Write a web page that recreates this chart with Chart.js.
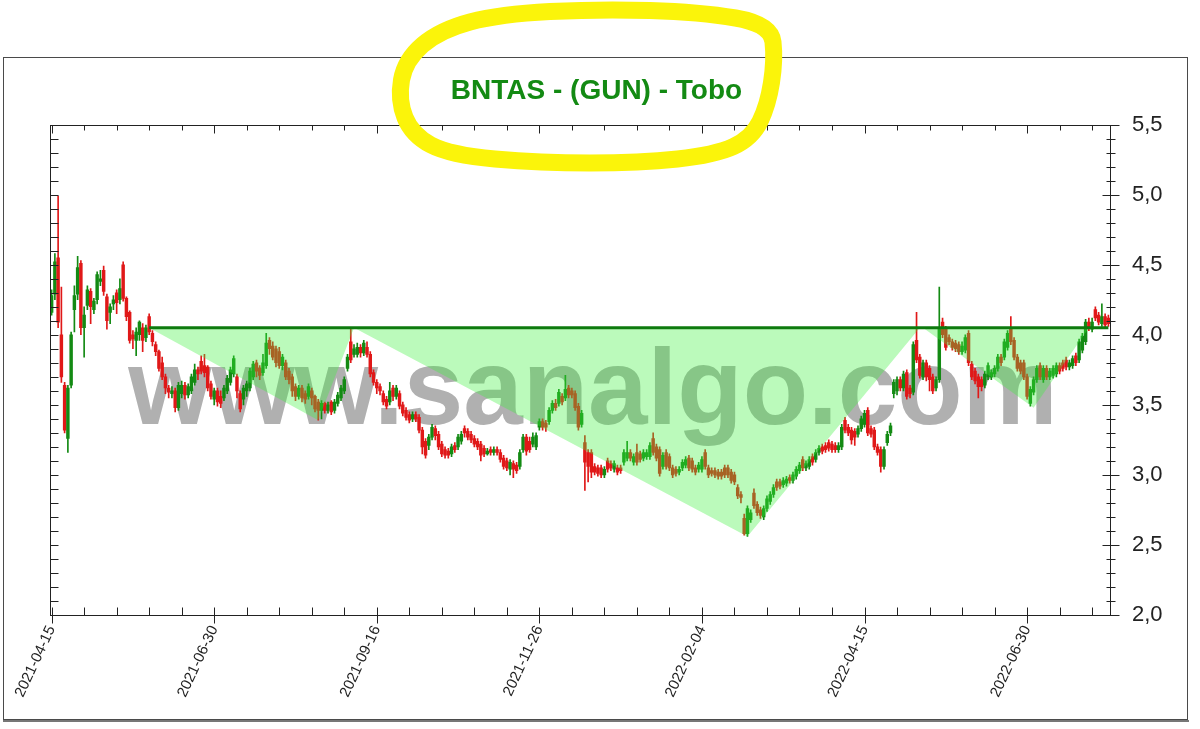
<!DOCTYPE html>
<html lang="tr">
<head>
    <meta charset="UTF-8">
    <title>BNTAS - (GUN) - Tobo</title>
    <script src="https://cdn.jsdelivr.net/npm/chart.js"></script>
    <style>
        body {
            margin: 0;
            padding: 0;
            background: #ffffff;
        }

        .chart-wrap {
            width: 1200px;
            height: 729px;
            position: relative;
        }
    </style>
</head>
<body>
    <div class="chart-wrap">
        <canvas id="priceChart"></canvas>
    </div>

    <script>
        // daily candles (TL)
        const opens = [
            4.16, 4.29, 4.55, 4.00, 3.64, 3.26, 3.64, 4.18, 4.29, 4.51,
            4.05, 4.21, 4.31, 4.18, 4.25, 4.38, 4.46, 4.27, 4.16, 4.22,
            4.30, 4.25, 4.50, 4.26, 4.16, 4.00, 3.96, 4.00, 4.05, 3.98,
            4.13, 4.01, 3.93, 3.88, 3.80, 3.70, 3.62, 3.58, 3.60, 3.48,
            3.58, 3.64, 3.57, 3.60, 3.66, 3.75, 3.81, 3.78, 3.77, 3.65,
            3.54, 3.60, 3.56, 3.55, 3.60, 3.66, 3.72, 3.70, 3.58, 3.54,
            3.60, 3.62, 3.70, 3.80, 3.76, 3.73, 3.78, 3.96, 3.92, 3.90,
            3.88, 3.78, 3.80, 3.74, 3.70, 3.63, 3.56, 3.62, 3.58, 3.56,
            3.60, 3.56, 3.52, 3.46, 3.51, 3.46, 3.52, 3.46, 3.51, 3.55,
            3.60, 3.76, 3.95, 3.86, 3.86, 3.91, 3.87, 3.91, 3.86, 3.73,
            3.66, 3.63, 3.58, 3.54, 3.52, 3.62, 3.56, 3.58, 3.50, 3.46,
            3.43, 3.40, 3.43, 3.41, 3.32, 3.24, 3.21, 3.27, 3.33, 3.29,
            3.22, 3.18, 3.17, 3.15, 3.21, 3.20, 3.24, 3.33, 3.31, 3.29,
            3.26, 3.24, 3.22, 3.19, 3.15, 3.18, 3.16, 3.18, 3.16, 3.12,
            3.10, 3.04, 3.08, 3.07, 3.06, 3.18, 3.27, 3.24, 3.22, 3.20,
            3.34, 3.38, 3.37, 3.38, 3.46, 3.51, 3.51, 3.56, 3.55, 3.62,
            3.60, 3.58, 3.49, 3.36, 3.23, 3.16, 3.16, 3.06, 3.05, 3.05,
            3.00, 3.10, 3.08, 3.04, 3.05, 3.05, 3.09, 3.12, 3.16, 3.09,
            3.16, 3.15, 3.12, 3.13, 3.13, 3.26, 3.20, 3.18, 3.06, 3.16,
            3.13, 3.05, 3.04, 3.02, 3.05, 3.07, 3.12, 3.10, 3.05, 3.04,
            3.04, 3.16, 3.05, 3.03, 3.03, 3.02, 3.02, 3.05, 3.05, 3.02,
            3.00, 2.91, 2.86, 2.69, 2.58, 2.68, 2.87, 2.79, 2.75, 2.70,
            2.76, 2.81, 2.86, 2.95, 2.95, 2.93, 2.94, 2.98, 2.96, 2.99,
            3.03, 3.11, 3.05, 3.06, 3.13, 3.11, 3.16, 3.20, 3.21, 3.23,
            3.22, 3.21, 3.18, 3.20, 3.39, 3.34, 3.32, 3.31, 3.29, 3.33,
            3.36, 3.46, 3.33, 3.32, 3.20, 3.18, 3.06, 3.23, 3.30, 3.58,
            3.60, 3.68, 3.62, 3.73, 3.62, 3.59, 3.96, 3.84, 3.70, 3.80,
            3.76, 3.70, 3.62, 3.68, 4.09, 4.04, 3.98, 3.95, 3.94, 3.93,
            3.88, 3.89, 4.01, 3.79, 3.74, 3.70, 3.68, 3.64, 3.70, 3.70,
            3.72, 3.76, 3.84, 3.84, 3.91, 4.05, 3.96, 3.84, 3.80, 3.80,
            3.70, 3.51, 3.59, 3.68, 3.78, 3.68, 3.76, 3.70, 3.71, 3.72,
            3.78, 3.80, 3.82, 3.77, 3.78, 3.85, 3.82, 3.89, 3.95, 4.09,
            4.04, 4.18, 4.14, 4.08, 4.13, 4.12
        ];
        const highs = [
            4.32, 4.58, 4.99, 4.34, 3.66, 3.64, 4.02, 4.35, 4.56, 4.53,
            4.20, 4.35, 4.33, 4.26, 4.45, 4.46, 4.49, 4.29, 4.22, 4.28,
            4.32, 4.40, 4.52, 4.27, 4.17, 4.03, 4.05, 4.10, 4.08, 4.07,
            4.15, 4.03, 3.95, 3.89, 3.84, 3.72, 3.64, 3.63, 3.62, 3.66,
            3.67, 3.66, 3.65, 3.72, 3.79, 3.77, 3.85, 3.86, 3.78, 3.67,
            3.62, 3.62, 3.60, 3.64, 3.71, 3.77, 3.85, 3.72, 3.60, 3.64,
            3.67, 3.76, 3.81, 3.82, 3.78, 3.86, 4.01, 3.98, 3.95, 3.92,
            3.91, 3.86, 3.82, 3.76, 3.72, 3.65, 3.64, 3.64, 3.60, 3.65,
            3.62, 3.57, 3.54, 3.53, 3.52, 3.52, 3.53, 3.54, 3.59, 3.64,
            3.70, 3.86, 4.04, 3.93, 3.94, 3.93, 3.96, 3.95, 3.88, 3.75,
            3.68, 3.65, 3.60, 3.56, 3.66, 3.64, 3.64, 3.60, 3.52, 3.48,
            3.45, 3.45, 3.45, 3.43, 3.34, 3.26, 3.29, 3.36, 3.35, 3.31,
            3.24, 3.20, 3.19, 3.22, 3.23, 3.29, 3.31, 3.35, 3.33, 3.31,
            3.28, 3.26, 3.24, 3.21, 3.19, 3.20, 3.20, 3.20, 3.18, 3.14,
            3.12, 3.11, 3.10, 3.09, 3.18, 3.29, 3.29, 3.27, 3.30, 3.30,
            3.40, 3.40, 3.39, 3.48, 3.53, 3.54, 3.61, 3.58, 3.71, 3.64,
            3.62, 3.60, 3.51, 3.46, 3.28, 3.18, 3.18, 3.08, 3.07, 3.07,
            3.06, 3.12, 3.10, 3.10, 3.07, 3.07, 3.18, 3.24, 3.18, 3.15,
            3.22, 3.17, 3.18, 3.18, 3.23, 3.30, 3.22, 3.20, 3.16, 3.18,
            3.15, 3.07, 3.06, 3.06, 3.11, 3.13, 3.14, 3.12, 3.07, 3.09,
            3.13, 3.18, 3.07, 3.05, 3.05, 3.04, 3.04, 3.07, 3.07, 3.04,
            3.02, 2.93, 2.88, 2.72, 2.78, 2.75, 2.90, 2.81, 2.77, 2.78,
            2.85, 2.88, 2.93, 2.97, 2.97, 2.98, 2.99, 3.00, 3.02, 3.06,
            3.09, 3.13, 3.10, 3.13, 3.15, 3.18, 3.21, 3.22, 3.23, 3.25,
            3.24, 3.23, 3.23, 3.36, 3.41, 3.36, 3.34, 3.33, 3.35, 3.42,
            3.46, 3.48, 3.35, 3.34, 3.22, 3.20, 3.20, 3.31, 3.37, 3.68,
            3.70, 3.70, 3.74, 3.75, 3.64, 3.95, 4.16, 3.86, 3.82, 3.82,
            3.78, 3.72, 3.70, 4.34, 4.12, 4.06, 4.00, 3.97, 3.96, 3.95,
            3.95, 4.00, 4.03, 3.81, 3.76, 3.72, 3.70, 3.74, 3.80, 3.75,
            3.78, 3.86, 3.86, 3.97, 4.03, 4.13, 3.98, 3.86, 3.82, 3.82,
            3.72, 3.63, 3.70, 3.78, 3.80, 3.78, 3.78, 3.76, 3.78, 3.80,
            3.80, 3.82, 3.84, 3.82, 3.85, 3.87, 3.97, 4.01, 4.11, 4.12,
            4.12, 4.20, 4.16, 4.22, 4.15, 4.14
        ];
        const lows = [
            4.14, 4.25, 4.05, 3.66, 3.30, 3.16, 3.62, 4.02, 4.25, 4.00,
            3.84, 4.18, 4.08, 4.15, 4.22, 4.35, 4.28, 4.04, 4.08, 4.18,
            4.15, 4.22, 4.24, 4.10, 3.94, 3.90, 3.85, 3.96, 3.88, 3.95,
            4.00, 3.92, 3.85, 3.74, 3.68, 3.58, 3.55, 3.55, 3.45, 3.46,
            3.55, 3.54, 3.55, 3.58, 3.64, 3.68, 3.72, 3.70, 3.60, 3.54,
            3.50, 3.49, 3.48, 3.53, 3.58, 3.64, 3.70, 3.55, 3.45, 3.50,
            3.56, 3.60, 3.68, 3.70, 3.68, 3.71, 3.76, 3.86, 3.82, 3.77,
            3.76, 3.75, 3.68, 3.65, 3.56, 3.53, 3.54, 3.52, 3.51, 3.54,
            3.50, 3.45, 3.39, 3.40, 3.44, 3.44, 3.43, 3.44, 3.49, 3.53,
            3.58, 3.74, 3.80, 3.84, 3.84, 3.84, 3.85, 3.84, 3.70, 3.64,
            3.58, 3.57, 3.50, 3.47, 3.50, 3.53, 3.54, 3.47, 3.42, 3.39,
            3.37, 3.38, 3.38, 3.30, 3.15, 3.12, 3.18, 3.25, 3.25, 3.18,
            3.13, 3.12, 3.12, 3.13, 3.16, 3.18, 3.22, 3.27, 3.25, 3.23,
            3.20, 3.18, 3.10, 3.13, 3.14, 3.14, 3.14, 3.14, 3.09, 3.04,
            3.03, 3.00, 2.98, 3.01, 3.04, 3.16, 3.14, 3.16, 3.20, 3.18,
            3.32, 3.32, 3.31, 3.36, 3.44, 3.46, 3.49, 3.50, 3.53, 3.55,
            3.55, 3.46, 3.32, 3.34, 2.89, 2.95, 2.98, 3.00, 2.99, 2.98,
            2.98, 3.02, 3.03, 3.02, 3.00, 3.01, 3.07, 3.10, 3.10, 3.07,
            3.07, 3.09, 3.10, 3.11, 3.11, 3.14, 3.10, 2.99, 3.04, 3.04,
            3.03, 2.98, 2.99, 3.00, 3.03, 3.05, 3.03, 3.02, 3.00, 3.02,
            3.02, 3.04, 2.98, 2.99, 2.98, 2.97, 2.97, 2.98, 2.98, 2.94,
            2.93, 2.83, 2.80, 2.57, 2.56, 2.66, 2.76, 2.71, 2.69, 2.68,
            2.74, 2.79, 2.84, 2.89, 2.90, 2.91, 2.92, 2.94, 2.94, 2.97,
            3.01, 3.03, 3.03, 3.04, 3.07, 3.09, 3.14, 3.15, 3.16, 3.17,
            3.16, 3.16, 3.16, 3.18, 3.30, 3.28, 3.22, 3.21, 3.27, 3.31,
            3.34, 3.28, 3.27, 3.18, 3.14, 3.02, 3.04, 3.21, 3.28, 3.55,
            3.57, 3.60, 3.60, 3.54, 3.55, 3.57, 3.80, 3.69, 3.68, 3.67,
            3.60, 3.58, 3.60, 3.66, 3.98, 3.89, 3.93, 3.89, 3.88, 3.86,
            3.86, 3.87, 3.78, 3.68, 3.65, 3.55, 3.60, 3.62, 3.68, 3.68,
            3.70, 3.74, 3.78, 3.82, 3.89, 3.93, 3.82, 3.74, 3.72, 3.68,
            3.54, 3.49, 3.57, 3.66, 3.68, 3.66, 3.68, 3.68, 3.69, 3.70,
            3.72, 3.74, 3.75, 3.75, 3.76, 3.78, 3.80, 3.87, 3.93, 4.03,
            4.02, 4.10, 4.07, 4.06, 4.05, 4.06
        ];
        const closes = [
            4.28, 4.52, 4.09, 3.70, 3.32, 3.62, 4.00, 4.28, 4.48, 4.05,
            4.14, 4.32, 4.20, 4.24, 4.43, 4.40, 4.31, 4.10, 4.20, 4.25,
            4.23, 4.33, 4.26, 4.13, 3.96, 3.97, 4.02, 4.09, 3.96, 4.05,
            4.02, 3.95, 3.88, 3.76, 3.70, 3.62, 3.59, 3.60, 3.48, 3.64,
            3.64, 3.57, 3.63, 3.70, 3.75, 3.72, 3.74, 3.73, 3.62, 3.56,
            3.60, 3.52, 3.51, 3.62, 3.69, 3.75, 3.83, 3.60, 3.47, 3.62,
            3.65, 3.74, 3.79, 3.74, 3.71, 3.80, 3.94, 3.90, 3.84, 3.80,
            3.78, 3.84, 3.70, 3.68, 3.60, 3.56, 3.62, 3.55, 3.54, 3.63,
            3.55, 3.47, 3.46, 3.51, 3.46, 3.50, 3.45, 3.52, 3.57, 3.62,
            3.68, 3.84, 3.82, 3.90, 3.91, 3.87, 3.94, 3.86, 3.72, 3.66,
            3.62, 3.60, 3.52, 3.49, 3.60, 3.56, 3.62, 3.49, 3.44, 3.41,
            3.39, 3.43, 3.40, 3.32, 3.20, 3.14, 3.27, 3.34, 3.28, 3.20,
            3.15, 3.14, 3.14, 3.20, 3.18, 3.27, 3.29, 3.30, 3.27, 3.25,
            3.22, 3.20, 3.14, 3.15, 3.17, 3.16, 3.18, 3.16, 3.11, 3.06,
            3.05, 3.09, 3.04, 3.03, 3.16, 3.27, 3.17, 3.18, 3.27, 3.28,
            3.38, 3.34, 3.34, 3.46, 3.51, 3.48, 3.59, 3.52, 3.61, 3.57,
            3.57, 3.48, 3.34, 3.44, 3.09, 3.06, 3.02, 3.02, 3.01, 3.00,
            3.04, 3.04, 3.05, 3.08, 3.02, 3.03, 3.16, 3.16, 3.12, 3.13,
            3.09, 3.11, 3.16, 3.16, 3.21, 3.16, 3.12, 3.01, 3.14, 3.06,
            3.05, 3.00, 3.01, 3.04, 3.09, 3.11, 3.05, 3.04, 3.02, 3.07,
            3.11, 3.06, 3.00, 3.01, 3.00, 2.99, 2.99, 3.00, 3.00, 2.96,
            2.95, 2.85, 2.84, 2.58, 2.76, 2.73, 2.78, 2.73, 2.71, 2.76,
            2.83, 2.86, 2.91, 2.91, 2.92, 2.96, 2.97, 2.96, 3.00, 3.04,
            3.07, 3.05, 3.08, 3.11, 3.09, 3.16, 3.19, 3.17, 3.18, 3.19,
            3.18, 3.18, 3.21, 3.34, 3.32, 3.30, 3.25, 3.27, 3.33, 3.40,
            3.44, 3.30, 3.29, 3.20, 3.16, 3.06, 3.18, 3.29, 3.35, 3.66,
            3.68, 3.62, 3.72, 3.56, 3.58, 3.93, 3.82, 3.71, 3.80, 3.70,
            3.68, 3.60, 3.68, 4.05, 4.00, 3.91, 3.95, 3.91, 3.90, 3.88,
            3.92, 3.98, 3.80, 3.70, 3.67, 3.63, 3.63, 3.72, 3.78, 3.73,
            3.76, 3.84, 3.80, 3.95, 4.01, 3.95, 3.84, 3.76, 3.74, 3.70,
            3.56, 3.61, 3.68, 3.76, 3.70, 3.76, 3.70, 3.74, 3.76, 3.78,
            3.74, 3.76, 3.77, 3.80, 3.83, 3.80, 3.95, 3.99, 4.09, 4.05,
            4.09, 4.12, 4.09, 4.13, 4.07, 4.08
        ];

        // date labels on the x axis and the candle they sit on
        const tickDates = ['2021-04-15', '2021-06-30', '2021-09-16', '2021-11-26', '2022-02-04', '2022-04-15', '2022-06-30'];
        const tickIdx = [0, 50, 100, 150, 200, 250, 300];

        // inverse head & shoulders: vertex candles and prices
        const patternIdx = [30, 82, 93, 214, 267, 268, 302, 319];
        const patternVal = [4.05, 3.39, 4.05, 2.56, 4.05, 4.05, 3.48, 4.05];
        const necklineVal = 4.05;
        const necklineFrom = 30;

        const UP = '#138a13';
        const DOWN = '#e01818';

        const labels = closes.map((_, i) => i);
        const candleColors = closes.map((c, i) => c >= opens[i] ? UP : DOWN);
        const bodies = closes.map((c, i) => [Math.min(opens[i], c), Math.max(opens[i], c)]);
        const wicks = closes.map((_, i) => [lows[i], highs[i]]);
        const patternData = labels.map(i => patternIdx.includes(i) ? patternVal[patternIdx.indexOf(i)] : null);
        const necklineData = labels.map(i => (i === necklineFrom || i === labels.length - 1) ? necklineVal : null);

        const FONT = "'Liberation Sans', Arial, sans-serif";

        // white page + outer frame
        const framePlugin = {
            id: 'frame',
            beforeDraw(chart) {
                const ctx = chart.ctx;
                ctx.save();
                ctx.fillStyle = '#ffffff';
                ctx.fillRect(0, 0, chart.width, chart.height);
                ctx.strokeStyle = '#4a4a4a';
                ctx.lineWidth = 1;
                ctx.strokeRect(3.5, 57.5, 1184, 662);
                ctx.strokeStyle = '#777';
                ctx.lineWidth = 2;
                ctx.beginPath();
                ctx.moveTo(3, 721);
                ctx.lineTo(1189, 721);
                ctx.stroke();
                ctx.restore();
            }
        };

        // big grey watermark behind the candles
        const watermarkPlugin = {
            id: 'watermark',
            beforeDatasetsDraw(chart) {
                const ctx = chart.ctx;
                const a = chart.chartArea;
                ctx.save();
                ctx.font = 'bold 107px ' + FONT;
                ctx.fillStyle = '#b0b0b0';
                ctx.textAlign = 'center';
                ctx.textBaseline = 'alphabetic';
                ctx.fillText('www.sanalgo.com', (a.left + a.right) / 2 + 13, 424);
                ctx.restore();
            }
        };

        // plot box with tick marks on all four sides
        const boxPlugin = {
            id: 'box',
            afterDatasetsDraw(chart) {
                const ctx = chart.ctx;
                const a = chart.chartArea;
                const xs = chart.scales.x;
                const ys = chart.scales.y;
                const L = Math.round(a.left) + 0.5;
                const R = Math.round(a.right) + 0.5;
                const T = Math.round(a.top) + 0.5;
                const B = Math.round(a.bottom) + 0.5;
                ctx.save();
                ctx.strokeStyle = '#222';
                ctx.lineWidth = 1;
                ctx.strokeRect(L, T, R - L, B - T);
                ctx.beginPath();
                for (let k = 0; k <= 35; k++) {
                    const v = 2 + k * 0.1;
                    const y = Math.round(ys.getPixelForValue(v)) + 0.5;
                    const major = k % 5 === 0;
                    ctx.moveTo(L, y);
                    ctx.lineTo(L + 8, y);
                    ctx.moveTo(major ? R - 8 : R - 4, y);
                    ctx.lineTo(major ? R + 9 : R + 5, y);
                }
                for (let i = 0; i < labels.length; i += 10) {
                    const x = Math.round(xs.getPixelForValue(i)) + 0.5;
                    const major = tickIdx.includes(i);
                    ctx.moveTo(x, B - 8);
                    ctx.lineTo(x, major ? B + 8 : B);
                    ctx.moveTo(x, T);
                    ctx.lineTo(x, major ? T + 8 : T + 5);
                }
                ctx.stroke();
                ctx.restore();
            }
        };

        // hand drawn yellow loop round the title
        const loopPlugin = {
            id: 'loop',
            afterDraw(chart) {
                const ctx = chart.ctx;
                const pts = [
                    [771, 24], [700, 12], [600, 9], [500, 14], [440, 30], [405, 60],
                    [398, 100], [412, 135], [450, 155], [540, 163], [640, 163],
                    [715, 155], [752, 138], [768, 105], [775, 60]
                ];
                const mid = (p, q) => [(p[0] + q[0]) / 2, (p[1] + q[1]) / 2];
                ctx.save();
                ctx.strokeStyle = '#fbf40a';
                ctx.lineWidth = 17;
                ctx.lineJoin = 'round';
                ctx.lineCap = 'round';
                ctx.beginPath();
                const start = mid(pts[pts.length - 1], pts[0]);
                ctx.moveTo(start[0], start[1]);
                for (let i = 0; i < pts.length; i++) {
                    const p = pts[i];
                    const m = mid(p, pts[(i + 1) % pts.length]);
                    ctx.quadraticCurveTo(p[0], p[1], m[0], m[1]);
                }
                ctx.closePath();
                ctx.stroke();
                ctx.restore();
            }
        };

        new Chart(document.getElementById('priceChart'), {
            data: {
                labels: labels,
                datasets: [
                    {
                        type: 'line',
                        data: necklineData,
                        spanGaps: true,
                        borderColor: '#0d7a0d',
                        borderWidth: 3,
                        pointRadius: 0,
                        fill: false,
                        order: 0
                    },
                    {
                        type: 'line',
                        data: patternData,
                        spanGaps: true,
                        borderWidth: 0,
                        borderColor: 'rgba(0,0,0,0)',
                        backgroundColor: 'rgba(60, 240, 60, 0.35)',
                        pointRadius: 0,
                        tension: 0,
                        fill: { value: necklineVal },
                        order: 1
                    },
                    {
                        type: 'bar',
                        data: bodies,
                        backgroundColor: candleColors,
                        barThickness: 2.8,
                        minBarLength: 1,
                        grouped: false,
                        order: 2
                    },
                    {
                        type: 'bar',
                        data: wicks,
                        backgroundColor: candleColors,
                        barThickness: 1,
                        grouped: false,
                        order: 3
                    }
                ]
            },
            options: {
                responsive: true,
                maintainAspectRatio: false,
                animation: false,
                layout: {
                    padding: { left: 5, right: 12, top: 60, bottom: 0 }
                },
                plugins: {
                    legend: { display: false },
                    tooltip: { enabled: false },
                    title: {
                        display: true,
                        text: 'BNTAS - (GUN) - Tobo',
                        color: '#138a13',
                        font: { family: FONT, size: 28, weight: 'bold' },
                        padding: { top: 14, bottom: 17 }
                    }
                },
                scales: {
                    x: {
                        type: 'category',
                        offset: true,
                        grid: { display: false, drawTicks: false },
                        border: { display: false },
                        ticks: {
                            autoSkip: false,
                            minRotation: 65,
                            maxRotation: 65,
                            padding: 8,
                            color: '#222',
                            font: { family: FONT, size: 15 },
                            callback: (v, i) => tickIdx.includes(i) ? tickDates[tickIdx.indexOf(i)] : ''
                        },
                        afterFit: s => { s.height = 114; }
                    },
                    y: {
                        position: 'right',
                        min: 2,
                        max: 5.5,
                        grid: { display: false, drawTicks: false },
                        border: { display: false },
                        ticks: {
                            stepSize: 0.5,
                            padding: 22,
                            color: '#222',
                            font: { family: FONT, size: 22 },
                            callback: v => v.toFixed(1).replace('.', ',')
                        },
                        afterFit: s => { s.width = 78; }
                    },
                    y2: {
                        position: 'left',
                        display: true,
                        min: 2,
                        max: 5.5,
                        grid: { display: false, drawTicks: false },
                        border: { display: false },
                        ticks: { display: false },
                        afterFit: s => { s.width = 45; }
                    }
                }
            },
            plugins: [framePlugin, watermarkPlugin, boxPlugin, loopPlugin]
        });
    </script>
</body>
</html>
